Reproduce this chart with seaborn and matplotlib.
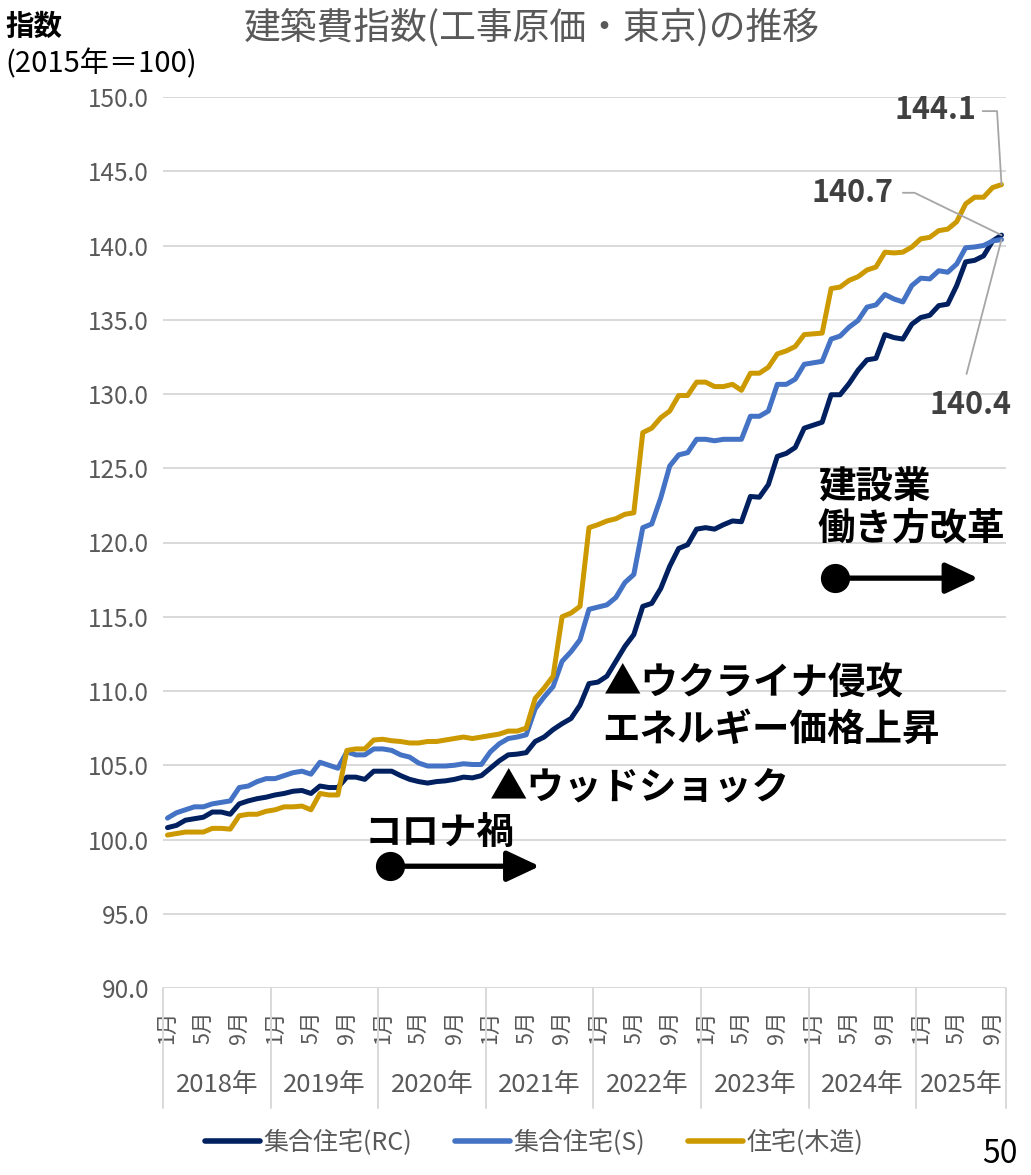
import numpy as np
import pandas as pd
import matplotlib
matplotlib.use("Agg")
import matplotlib.pyplot as plt
from matplotlib.lines import Line2D
import seaborn as sns

# ---- data: monthly construction cost index (Tokyo), 2015 = 100 ----
years = [2018, 2019, 2020, 2021, 2022, 2023, 2024, 2025]
months_last_year = 10  # Jan-Oct 2025

rc_values = [
    100.8, 100.95, 101.3, 101.4, 101.5, 101.85, 101.85, 101.7, 102.4, 102.6, 102.75, 102.85,
    103.0, 103.1, 103.25, 103.3, 103.1, 103.6, 103.5, 103.5, 104.2, 104.2, 104.05, 104.6,
    104.6, 104.6, 104.3, 104.05, 103.9, 103.8, 103.9, 103.95, 104.05, 104.2, 104.15, 104.3,
    104.8, 105.3, 105.7, 105.75, 105.85, 106.6, 106.9, 107.4, 107.8, 108.15, 109.05, 110.5,
    110.6, 111.0, 112.0, 113.0, 113.8, 115.7, 115.9, 116.9, 118.4, 119.6, 119.85, 120.9,
    121.0, 120.9, 121.2, 121.45, 121.4, 123.1, 123.05, 123.9, 125.8, 126.0, 126.4, 127.7,
    127.9, 128.1, 129.95, 129.95, 130.7, 131.6, 132.3, 132.4, 134.0, 133.8, 133.7, 134.7,
    135.15, 135.3, 135.95, 136.05, 137.3, 138.9, 139.0, 139.3, 140.3, 140.7,
]
s_values = [
    101.44, 101.8, 102.0, 102.2, 102.2, 102.4, 102.5, 102.6, 103.5, 103.6, 103.9, 104.1,
    104.1, 104.3, 104.5, 104.6, 104.4, 105.2, 105.0, 104.8, 105.9, 105.7, 105.7, 106.1,
    106.1, 106.0, 105.7, 105.55, 105.15, 104.95, 104.95, 104.95, 105.0, 105.1, 105.05, 105.05,
    105.9, 106.45, 106.8, 106.9, 107.05, 108.8, 109.6, 110.3, 112.0, 112.65, 113.45, 115.5,
    115.65, 115.8, 116.3, 117.3, 117.85, 121.0, 121.25, 123.0, 125.15, 125.9, 126.05, 126.95,
    126.95, 126.85, 126.95, 126.95, 126.95, 128.5, 128.5, 128.85, 130.65, 130.65, 131.0, 132.0,
    132.1, 132.2, 133.7, 133.9, 134.5, 134.95, 135.85, 136.0, 136.7, 136.4, 136.2, 137.3,
    137.8, 137.75, 138.3, 138.2, 138.75, 139.85, 139.9, 140.0, 140.3, 140.4,
]
wood_values = [
    100.3, 100.4, 100.5, 100.5, 100.5, 100.75, 100.75, 100.7, 101.6, 101.7, 101.7, 101.9,
    102.0, 102.2, 102.2, 102.25, 102.0, 103.1, 103.0, 103.0, 106.0, 106.1, 106.1, 106.7,
    106.75, 106.65, 106.6, 106.5, 106.5, 106.6, 106.6, 106.7, 106.8, 106.9, 106.8, 106.9,
    107.0, 107.1, 107.3, 107.3, 107.5, 109.5, 110.2, 111.0, 115.0, 115.25, 115.7, 121.0,
    121.2, 121.45, 121.6, 121.9, 122.0, 127.4, 127.7, 128.4, 128.85, 129.9, 129.9, 130.8,
    130.8, 130.5, 130.5, 130.65, 130.25, 131.4, 131.4, 131.8, 132.7, 132.9, 133.2, 134.0,
    134.05, 134.1, 137.1, 137.2, 137.65, 137.9, 138.35, 138.55, 139.55, 139.5, 139.55, 139.9,
    140.45, 140.55, 141.0, 141.1, 141.6, 142.8, 143.25, 143.25, 143.9, 144.1,
]
series_names = ["集合住宅(RC)", "集合住宅(S)", "住宅(木造)"]
series_colors = ["#002060", "#4472C4", "#CC9A00"]
month_tick_labels = ["1月", "5月", "9月"]

# ---- build long-form table ----
month_no = []
year_of = []
for y in years:
    n = months_last_year if y == years[-1] else 12
    for m in range(1, n + 1):
        month_no.append(m)
        year_of.append(y)
idx = np.arange(len(month_no))

df = pd.concat([
    pd.DataFrame({"idx": idx, "value": vals, "series": name})
    for name, vals in zip(series_names, [rc_values, s_values, wood_values])
], ignore_index=True)

sns.set_theme(style="white")
plt.rcParams["font.family"] = ["Noto Sans CJK JP", "DejaVu Sans"]

W, H = 1031, 1175
fig = plt.figure(figsize=(W / 100, H / 100), dpi=100)
ax = fig.add_axes([163 / W, 1 - 988 / H, (1006 - 163) / W, (988 - 97) / H])

palette = dict(zip(series_names, series_colors))
sns.lineplot(data=df, x="idx", y="value", hue="series", palette=palette,
             linewidth=3.6, legend=False, ax=ax)
for ln in ax.get_lines():
    ln.set_solid_capstyle("round")
    ln.set_solid_joinstyle("round")

ax.set_xlim(-0.5, len(idx) - 0.5)
ax.set_ylim(90, 150)
ax.set_yticks(np.arange(90, 150.1, 5))
ax.set_yticklabels([f"{v:.1f}" for v in np.arange(90, 150.1, 5)],
                   fontsize=17.5, color="#595959")
ax.grid(axis="y", color="#D9D9D9", linewidth=1.4)
ax.grid(axis="x", visible=False)
for sp in ax.spines.values():
    sp.set_visible(False)
ax.tick_params(axis="y", length=0, pad=10)
ax.set_xlabel("")
ax.set_ylabel("")

# month ticks
tick_pos = [i for i, m in zip(idx, month_no) if f"{m}月" in month_tick_labels]
tick_lab = [f"{month_no[i]}月" for i in tick_pos]
ax.set_xticks(tick_pos)
ax.set_xticklabels(tick_lab, rotation=90, fontsize=15.5, color="#595959")
ax.tick_params(axis="x", length=0, pad=16)

# year groups with separators
trans = ax.get_xaxis_transform()
bounds = [-0.5]
for y in years:
    bounds.append(bounds[-1] + (months_last_year if y == years[-1] else 12))
for b in bounds:
    ax.plot([b, b], [0, -0.135], transform=trans, color="#D9D9D9",
            linewidth=1.4, clip_on=False)
for y, b0, b1 in zip(years, bounds[:-1], bounds[1:]):
    ax.text((b0 + b1) / 2, -0.109, f"{y}年", transform=trans, ha="center",
            va="center", fontsize=18.5, color="#595959")

# titles
fig.text(532 / W, 1 - 28 / H, "建築費指数(工事原価・東京)の推移", ha="center",
         va="center", fontsize=26.5, color="#595959")
fig.text(5 / W, 1 - 27 / H, "指数", ha="left", va="center", fontsize=20.5,
         fontweight="bold", color="black")
fig.text(5 / W, 1 - 64 / H, "(2015年＝100)", ha="left", va="center",
         fontsize=21, color="black")

# end-of-series value labels with leader lines
last = len(idx) - 1
lead = dict(color="#A6A6A6", linewidth=1.3, clip_on=False)
lab = dict(fontsize=22, fontweight="bold", color="#404040", ha="center", va="center")
ax.text(85.6, 149.1, f"{wood_values[-1]:.1f}", **lab)
ax.plot([90.9, 92.5, last], [149.05, 149.05, wood_values[-1]], **lead)
ax.text(76.4, 143.55, f"{rc_values[-1]:.1f}", **lab)
ax.plot([82.0, 83.3, last], [143.55, 143.55, rc_values[-1]], **lead)
ax.text(89.5, 129.26, f"{s_values[-1]:.1f}", **lab)
ax.plot([89.1, last], [131.35, s_values[-1]], **lead)

# event annotations
ann = dict(fontsize=27, fontweight="bold", color="black", ha="left", va="center")
ax.text(72.5, 123.74, "建設業", **ann)
ax.text(72.5, 120.98, "働き方改革", **ann)
ax.text(48.7, 110.54, "▲ウクライナ侵攻", **ann)
ax.text(48.5, 107.44, "エネルギー価格上昇", **ann)
ax.text(35.9, 103.54, "▲ウッドショック", **ann)
ax.text(22.0, 100.5, "コロナ禍", **ann)

arrow_style = dict(arrowstyle="-|>,head_length=1.0,head_width=0.47",
                   mutation_scale=20, lw=3.8, color="black",
                   shrinkA=0, shrinkB=0)
for (x0, x1, yv) in [(74.4, 90.4, 117.6), (24.8, 41.5, 98.2)]:
    ax.annotate("", xy=(x1, yv), xytext=(x0, yv), arrowprops=arrow_style)
    ax.plot([x0], [yv], marker="o", markersize=20, color="black")

# legend
handles = [Line2D([0], [0], color=c, linewidth=4, solid_capstyle="round")
           for c in series_colors]
fig.legend(handles, series_names, loc="center", bbox_to_anchor=(0.518, 1 - 1143 / H),
           ncol=3, frameon=False, fontsize=18, handlelength=2.2,
           handletextpad=0.15, columnspacing=1.7, labelcolor="#595959")

# page number
fig.text(1000 / W, 1 - 1138 / H, "50", ha="center", va="top", fontsize=23,
         color="black")

fig.savefig("out.png", dpi=100)
